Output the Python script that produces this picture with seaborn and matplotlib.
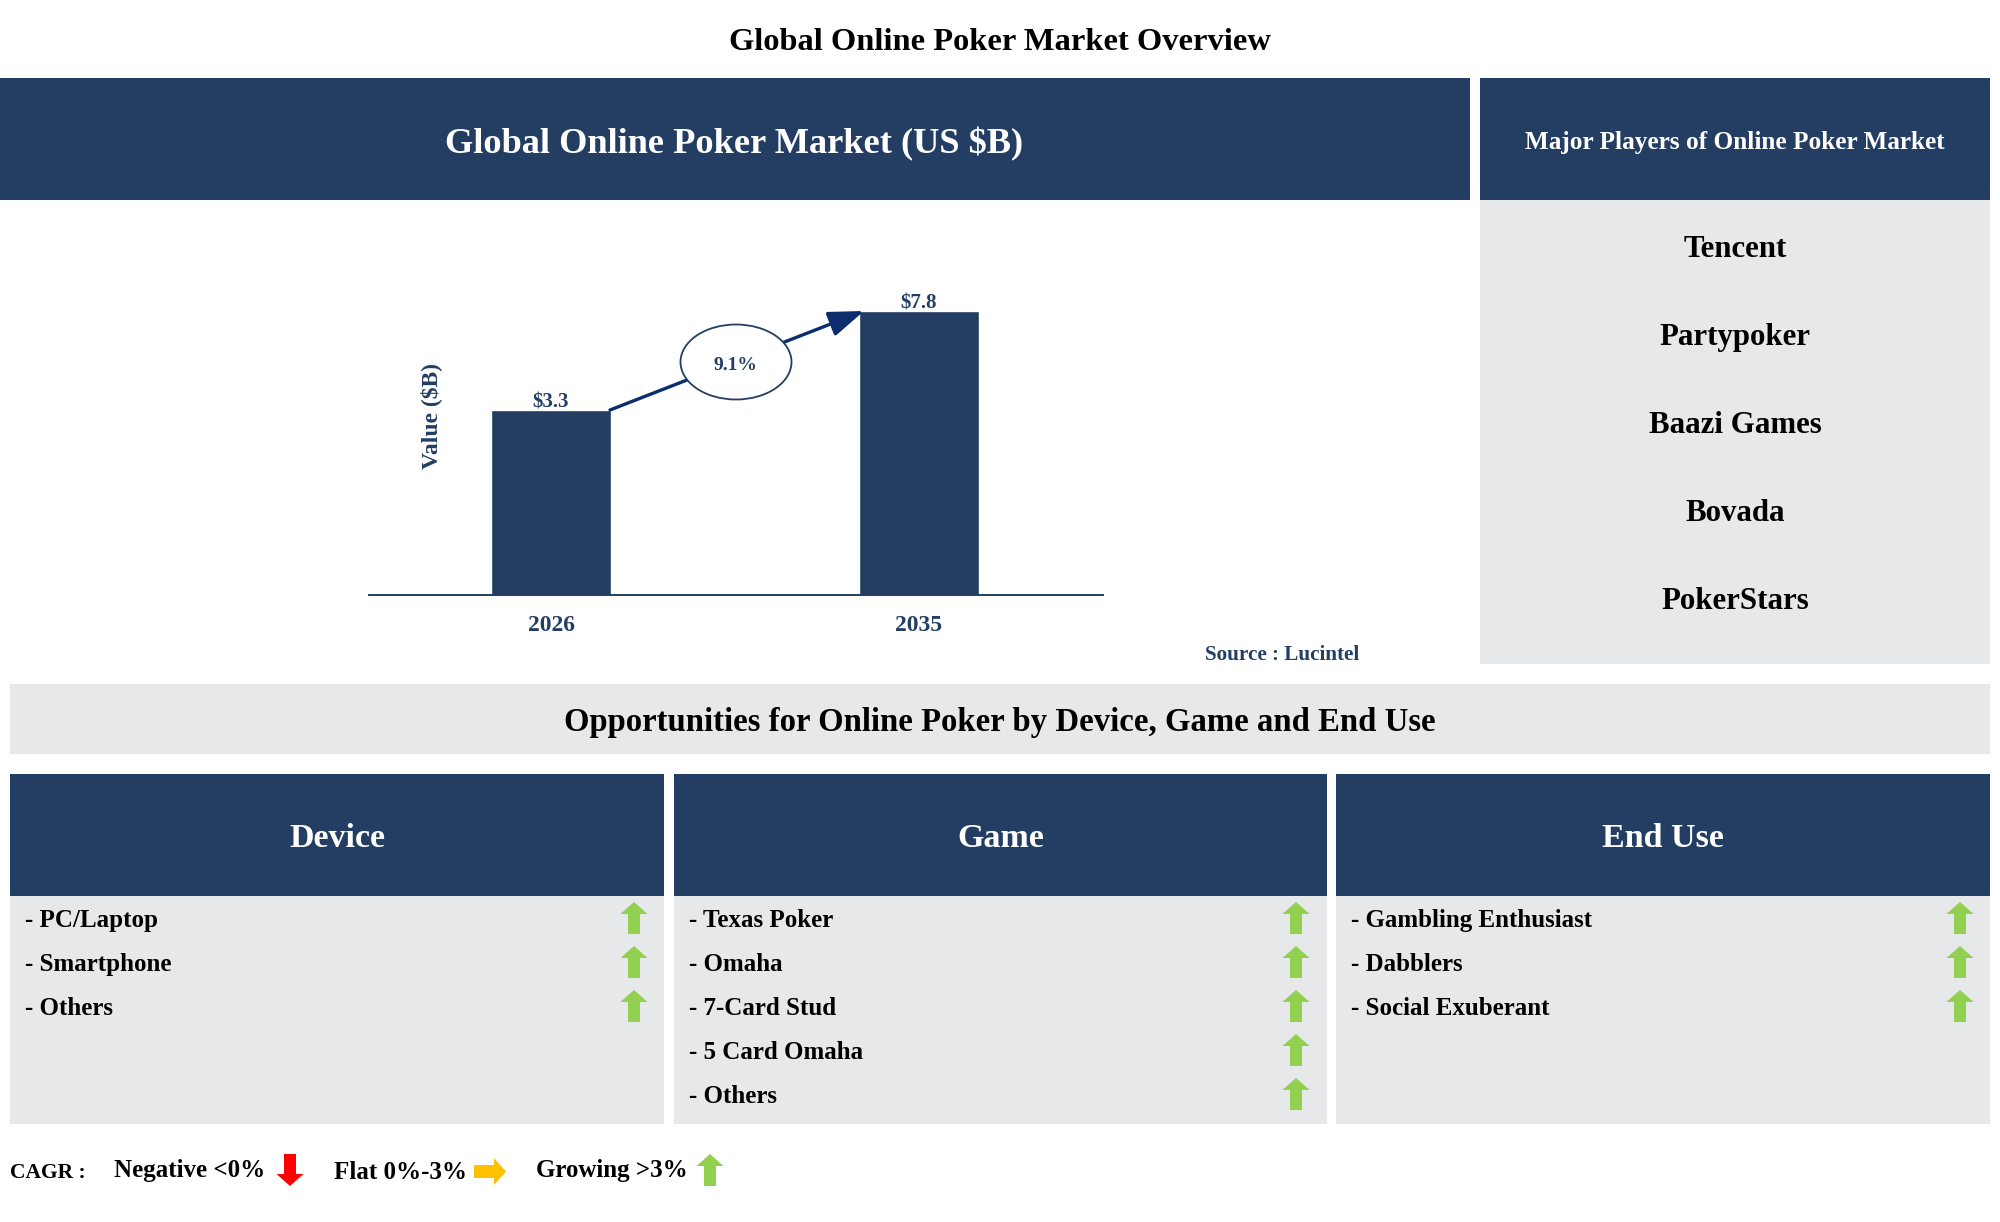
import numpy as np
import pandas as pd
import matplotlib
matplotlib.use("Agg")
import matplotlib.pyplot as plt
from matplotlib.patches import Rectangle, Ellipse, Polygon
import seaborn as sns

# ---- data ----
years = ["2026", "2035"]
market_values = [3.3, 7.8]
cagr_label = "9.1%"
players = ["Tencent", "Partypoker", "Baazi Games", "Bovada", "PokerStars"]
segment_titles = ["Device", "Game", "End Use"]
device_items = ["PC/Laptop", "Smartphone", "Others"]
game_items = ["Texas Poker", "Omaha", "7-Card Stud", "5 Card Omaha", "Others"]
enduse_items = ["Gambling Enthusiast", "Dabblers", "Social Exuberant"]

NAVY = "#243e63"
ARROW_NAVY = "#0b2d6e"
GREY = "#e7e8ea"
GREEN = "#92d050"
RED = "#ff0000"
ORANGE = "#ffc000"

sns.set_theme(style="white")
plt.rcParams["font.family"] = ["Liberation Serif", "DejaVu Serif"]
plt.rcParams["font.weight"] = "bold"

W, H = 2000, 1222
fig = plt.figure(figsize=(W / 100, H / 100), dpi=100, facecolor="white")

# ---- pixel-space layout layer ----
ov = fig.add_axes([0, 0, 1, 1], zorder=2)
ov.set_xlim(0, W)
ov.set_ylim(H, 0)
ov.axis("off")
ov.patch.set_alpha(0)


def box(x0, y0, x1, y1, color):
    ov.add_patch(Rectangle((x0, y0), x1 - x0, y1 - y0, fc=color, ec="none", zorder=1))


def label(x, y, s, size, color="black", ha="center", **kw):
    ov.text(x, y, s, fontsize=size, color=color, ha=ha, va="center_baseline",
            fontweight="bold", zorder=5, **kw)


def arrow_up(cx, top, color=GREEN, w=27, h=32, head=12, shaft=12):
    pts = [(cx, top), (cx + w / 2, top + head), (cx + shaft / 2, top + head),
           (cx + shaft / 2, top + h), (cx - shaft / 2, top + h),
           (cx - shaft / 2, top + head), (cx - w / 2, top + head)]
    ov.add_patch(Polygon(pts, closed=True, fc=color, ec="none", zorder=4))


def arrow_down(cx, top, color=RED, w=27, h=32, head=12, shaft=12):
    b = top + h
    pts = [(cx, b), (cx + w / 2, b - head), (cx + shaft / 2, b - head),
           (cx + shaft / 2, top), (cx - shaft / 2, top),
           (cx - shaft / 2, b - head), (cx - w / 2, b - head)]
    ov.add_patch(Polygon(pts, closed=True, fc=color, ec="none", zorder=4))


def arrow_right(x0, cy, color=ORANGE, l=32, hh=27, head=12, shaft=13):
    x1 = x0 + l
    pts = [(x1, cy), (x1 - head, cy - hh / 2), (x1 - head, cy - shaft / 2),
           (x0, cy - shaft / 2), (x0, cy + shaft / 2),
           (x1 - head, cy + shaft / 2), (x1 - head, cy + hh / 2)]
    ov.add_patch(Polygon(pts, closed=True, fc=color, ec="none", zorder=4))


# Title and top banners
label(1000, 39, "Global Online Poker Market Overview", 23.4)
box(0, 78, 1470, 200, NAVY)
box(1480, 78, 1990, 200, NAVY)
box(1480, 200, 1990, 664, GREY)
label(734, 140, "Global Online Poker Market (US $B)", 26.2, "white")
label(1735, 140, "Major Players of Online Poker Market", 18.2, "white")
for yy, name in zip([246, 334, 422, 510, 598], players):
    label(1735, yy, name, 22.2)

label(1282, 653, "Source : Lucintel", 15.2, NAVY)

# Opportunities band
box(10, 684, 1990, 754, GREY)
label(1000, 719, "Opportunities for Online Poker by Device, Game and End Use", 23.6)

# Segment columns
cols = [(10, 664, device_items, 634), (674, 1327, game_items, 1296),
        (1336, 1990, enduse_items, 1960)]
for (x0, x1, items, ax_x), title in zip(cols, segment_titles):
    box(x0, 774, x1, 895.5, NAVY)
    box(x0, 895.5, x1, 1124, GREY)
    label((x0 + x1) / 2, 835, title, 24.5, "white")
    for i, it in enumerate(items):
        y = 918 + i * 44
        label(x0 + 15, y, "- " + it, 18, ha="left")
        arrow_up(ax_x, y - 16)

# CAGR legend
label(10, 1170, "CAGR :", 15.5, ha="left")
label(114, 1168, "Negative <0%", 18, ha="left")
arrow_down(290, 1154)
label(334, 1170, "Flat 0%-3%", 18, ha="left")
arrow_right(474, 1171.5)
label(536, 1168, "Growing >3%", 18, ha="left")
arrow_up(710, 1154)

# CAGR arrow and ellipse
ov.annotate("", xy=(864, 311), xytext=(610, 410), zorder=3,
            arrowprops=dict(arrowstyle="-|>,head_length=0.72,head_width=0.26",
                            mutation_scale=30, lw=2.4, color=ARROW_NAVY,
                            shrinkA=0, shrinkB=0))
ov.add_patch(Ellipse((736, 362), 111, 75, fc="white", ec=NAVY, lw=1.3, zorder=4))
label(735, 364, cagr_label, 14, NAVY)

# ---- bar chart ----
base, top = 594.5, 311
left, right = 369, 1103
ax = fig.add_axes([left / W, 1 - base / H, (right - left) / W, (base - top) / H], zorder=1)
ax.patch.set_alpha(0)
df = pd.DataFrame({"year": years, "value": market_values})
sns.barplot(data=df, x="year", y="value", color=NAVY, saturation=1, width=0.328, ax=ax)
ax.set_yscale("function", functions=(np.sqrt, np.square))
ax.set_ylim(0, max(market_values))
ax.set_xlim(-0.4946, 1.5)
ax.set_yticks([])
ax.minorticks_off()
ax.set_xlabel("")
ax.set_ylabel("Value ($B)", fontsize=17, color=NAVY, fontweight="bold", va="center")
ax.yaxis.set_label_coords(0.085, 0.63)
ax.tick_params(axis="x", length=0, pad=14.8, labelsize=17, labelcolor=NAVY)
ax.bar_label(ax.containers[0], labels=[f"${v}" for v in market_values],
             fontsize=15, color=NAVY, fontweight="bold", padding=-1.5, clip_on=False)
sns.despine(ax=ax, left=True)
ax.spines["bottom"].set_color(NAVY)
ax.spines["bottom"].set_linewidth(1.4)

fig.savefig("out.png", dpi=100)
